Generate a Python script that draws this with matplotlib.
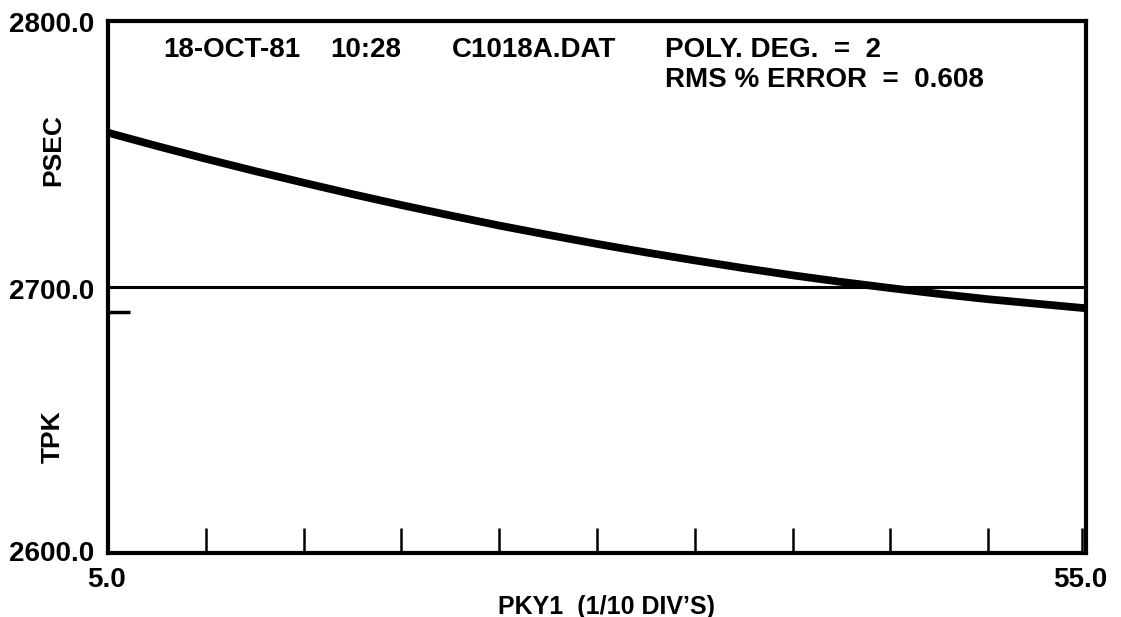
import matplotlib
matplotlib.use("Agg")
import matplotlib.pyplot as plt

# Fitted TPK (psec) versus PKY1 (1/10 div's)
pky1 = [5.0, 7.5, 10.0, 12.5, 15.0, 17.5, 20.0, 22.5, 25.0, 27.5, 30.0,
        32.5, 35.0, 37.5, 40.0, 42.5, 45.0, 47.5, 50.0, 52.5, 55.0]
tpk = [2758.0, 2753.0, 2748.2, 2743.6, 2739.2, 2734.9, 2730.8, 2726.9,
       2723.1, 2719.6, 2716.2, 2713.0, 2710.0, 2707.1, 2704.4, 2701.9,
       2699.6, 2697.4, 2695.4, 2693.7, 2692.0]

x_limits = [5.0, 55.0]
y_limits = [2600.0, 2800.0]
reference_level = 2700.0
end_marker = 2690.6
minor_ticks = [10, 15, 20, 25, 30, 35, 40, 45, 50, 54.8]

header_left = ["18-OCT-81", "10:28", "C1018A.DAT"]
poly_degree = 2
rms_error = 0.608

W, H = 1121, 617
fig = plt.figure(figsize=(W / 100, H / 100), dpi=100)
ax = fig.add_axes([108 / W, 1 - 553 / H, (1086 - 108) / W, (553 - 21) / H])

ax.set_xlim(*x_limits)
ax.set_ylim(*y_limits)

ax.plot(pky1, tpk, color="black", lw=5.6, solid_capstyle="butt", zorder=3)
ax.axhline(reference_level, color="black", lw=2.2, zorder=2)
ax.plot([x_limits[0], x_limits[0] + 1.15], [end_marker, end_marker],
        color="black", lw=2.5, solid_capstyle="butt", zorder=2)

for sp in ax.spines.values():
    sp.set_linewidth(3.0)
    sp.set_color("black")

ax.set_xticks(minor_ticks)
ax.set_xticklabels([])
ax.set_yticks([])
ax.tick_params(axis="x", direction="in", length=18, width=1.8, color="black")

font = dict(family=["Liberation Sans", "DejaVu Sans"], weight="bold", color="black")


def put(x, y, s, size=20, ha="left", **kw):
    fig.text(x / W, 1 - y / H, s, ha=ha, va="baseline", fontsize=size, **font, **kw)


# y-axis value labels (baselines in pixels)
put(94, 32, f"{y_limits[1]:.1f}", ha="right")
put(94, 299, f"{reference_level:.1f}", ha="right")
put(94, 561, f"{y_limits[0]:.1f}", ha="right")

# x-axis value labels
put(106, 587, f"{x_limits[0]:.1f}", ha="center")
put(1080, 587, f"{x_limits[1]:.1f}", ha="center")

put(607, 614, "PKY1  (1/10 DIV\u2019S)", size=18, ha="center")

fig.text(53 / W, 1 - 150 / H, "PSEC", ha="center", va="center", rotation=90,
         fontsize=19, **font)
fig.text(53 / W, 1 - 437 / H, "TPK", ha="center", va="center", rotation=90,
         fontsize=19, **font)

# header block
for label, xpx in zip(header_left, [163, 330, 452]):
    put(xpx, 57, label)
put(665, 57, f"POLY. DEG.  =  {poly_degree}")
put(665, 87, f"RMS % ERROR  =  {rms_error:.3f}")

fig.savefig("out.png", dpi=100, facecolor="white")
